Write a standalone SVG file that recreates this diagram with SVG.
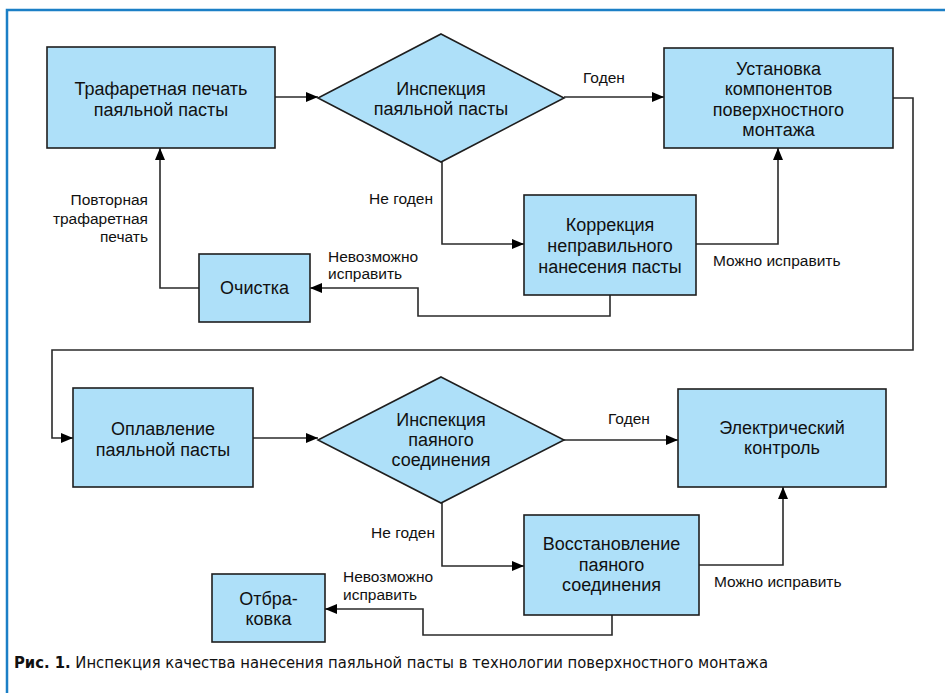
<svg xmlns="http://www.w3.org/2000/svg" width="945" height="693" viewBox="0 0 945 693">
<defs>
<style>
.box{fill:#aee0f9;stroke:#1e1e1e;stroke-width:1.6}
.t{font-family:"Liberation Sans",Arial,sans-serif;font-size:18px;fill:#111;text-anchor:middle}
.l{font-family:"Liberation Sans",Arial,sans-serif;font-size:15.5px;fill:#111}
.c{fill:none;stroke:#2a2a2a;stroke-width:1.6}
.cap{font-family:"DejaVu Sans Condensed","Liberation Sans",sans-serif;font-size:15px;fill:#111}
</style>
<marker id="ah" markerUnits="userSpaceOnUse" markerWidth="13" markerHeight="11" refX="12" refY="5" orient="auto">
<path d="M0,0 L12,5 L0,10 z" fill="#000"/>
</marker>
</defs>
<rect width="945" height="693" fill="#fff"/>
<path d="M7,693 V10 H945" fill="none" stroke="#1b7fc6" stroke-width="2.5"/>

<g id="connectors">
<path class="c" d="M275,97 H318" marker-end="url(#ah)"/>
<path class="c" d="M564,97 H664" marker-end="url(#ah)"/>
<path class="c" d="M442,162 V244 H524" marker-end="url(#ah)"/>
<path class="c" d="M696,244 H778 V148" marker-end="url(#ah)"/>
<path class="c" d="M610,295 V316 H418 V288 H310" marker-end="url(#ah)"/>
<path class="c" d="M199,288 H160 V148" marker-end="url(#ah)"/>
<path class="c" d="M893,98 H913 V350 H52 V438 H73" marker-end="url(#ah)"/>
<path class="c" d="M253,438 H318" marker-end="url(#ah)"/>
<path class="c" d="M564,440 H678" marker-end="url(#ah)"/>
<path class="c" d="M442,503 V566 H524" marker-end="url(#ah)"/>
<path class="c" d="M699,565 H783 V487" marker-end="url(#ah)"/>
<path class="c" d="M612,615 V635 H423 V609 H325" marker-end="url(#ah)"/>
<text class="l" x="583" y="83">Годен</text>
<text class="l" x="433" y="204" text-anchor="end">Не годен</text>
<text class="l" x="148" y="205" text-anchor="end">Повторная</text>
<text class="l" x="148" y="223.5" text-anchor="end">трафаретная</text>
<text class="l" x="148" y="242" text-anchor="end">печать</text>
<text class="l" x="328" y="261.5">Невозможно</text>
<text class="l" x="328" y="279">исправить</text>
<text class="l" x="713" y="265.5">Можно исправить</text>
<text class="l" x="608" y="423.5">Годен</text>
<text class="l" x="435" y="537.5" text-anchor="end">Не годен</text>
<text class="l" x="714" y="587">Можно исправить</text>
<text class="l" x="343" y="582">Невозможно</text>
<text class="l" x="343" y="599.5">исправить</text>
</g>

<g id="n1"><rect class="box" x="47" y="47" width="228" height="101"/>
<text class="t" x="161" y="95">Трафаретная печать</text><text class="t" x="161" y="115.5">паяльной пасты</text></g>

<g id="d1"><polygon class="box" points="441,34 564,98 441,162 318,98"/>
<text class="t" x="441" y="94.5">Инспекция</text><text class="t" x="441" y="115">паяльной пасты</text></g>

<g id="n2"><rect class="box" x="664" y="48" width="229" height="100"/>
<text class="t" x="778.5" y="74.5">Установка</text><text class="t" x="778.5" y="95">компонентов</text><text class="t" x="778.5" y="115.5">поверхностного</text><text class="t" x="778.5" y="136">монтажа</text></g>

<g id="n3"><rect class="box" x="524" y="195" width="172" height="100"/>
<text class="t" x="610" y="231">Коррекция</text><text class="t" x="610" y="252">неправильного</text><text class="t" x="610" y="272.5">нанесения пасты</text></g>

<g id="n4"><rect class="box" x="199" y="254" width="111" height="68"/>
<text class="t" x="254.5" y="294">Очистка</text></g>

<g id="n5"><rect class="box" x="73" y="388" width="180" height="99"/>
<text class="t" x="163" y="435">Оплавление</text><text class="t" x="163" y="455.5">паяльной пасты</text></g>

<g id="d2"><polygon class="box" points="441,377 564,440 441,503 318,440"/>
<text class="t" x="441" y="425.5">Инспекция</text><text class="t" x="441" y="445.5">паяного</text><text class="t" x="441" y="465.5">соединения</text></g>

<g id="n6"><rect class="box" x="678" y="389" width="208" height="98"/>
<text class="t" x="782" y="433.5">Электрический</text><text class="t" x="782" y="454">контроль</text></g>

<g id="n7"><rect class="box" x="524" y="515" width="175" height="100"/>
<text class="t" x="611.5" y="550">Восстановление</text><text class="t" x="611.5" y="570.5">паяного</text><text class="t" x="611.5" y="591">соединения</text></g>

<g id="n8"><rect class="box" x="212" y="574" width="113" height="68"/>
<text class="t" x="268.5" y="605">Отбра-</text><text class="t" x="268.5" y="625">ковка</text></g>

<text class="cap" x="14" y="668" textLength="754" lengthAdjust="spacingAndGlyphs"><tspan font-weight="bold">Рис. 1.</tspan> Инспекция качества нанесения паяльной пасты в технологии поверхностного монтажа</text>
</svg>
